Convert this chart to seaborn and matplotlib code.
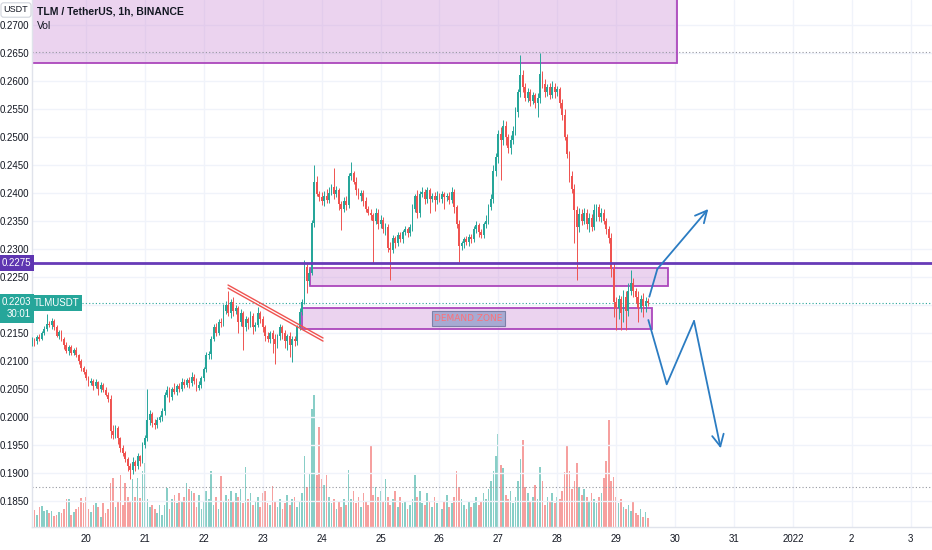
import numpy as np
import pandas as pd
import matplotlib
matplotlib.use('Agg')
import matplotlib.pyplot as plt
import seaborn as sns
from matplotlib.patches import Rectangle

# Hourly closes, TLM/USDT, Dec 19 02:00 -> Dec 29 13:00
close_19 = [0.2138, 0.2135, 0.2142, 0.2140, 0.2150, 0.2158, 0.2166, 0.2164, 0.2172, 0.2160, 0.2145,
            0.2152, 0.2140, 0.2128, 0.2118, 0.2125, 0.2115, 0.2120, 0.2110, 0.2100, 0.2088, 0.2080]
close_20 = [0.2070, 0.2060, 0.2065, 0.2055, 0.2062, 0.2050, 0.2058, 0.2048, 0.2040, 0.2032, 0.1975, 0.1968,
            0.1980, 0.1962, 0.1945, 0.1935, 0.1925, 0.1912, 0.1905, 0.1920, 0.1912, 0.1930, 0.1922, 0.1950]
close_21 = [0.1962, 0.1995, 0.2005, 0.1990, 0.1985, 0.1995, 0.2000, 0.2010, 0.2040, 0.2048, 0.2035, 0.2050,
            0.2045, 0.2055, 0.2050, 0.2062, 0.2058, 0.2066, 0.2060, 0.2072, 0.2065, 0.2052, 0.2058, 0.2070]
close_22 = [0.2085, 0.2110, 0.2112, 0.2140, 0.2160, 0.2150, 0.2170, 0.2168, 0.2190, 0.2200, 0.2185, 0.2205,
            0.2190, 0.2195, 0.2170, 0.2185, 0.2160, 0.2175, 0.2168, 0.2180, 0.2160, 0.2165, 0.2185, 0.2175]
close_23 = [0.2160, 0.2145, 0.2140, 0.2150, 0.2140, 0.2130, 0.2145, 0.2160, 0.2150, 0.2135, 0.2145, 0.2128,
            0.2140, 0.2135, 0.2160, 0.2188, 0.2205, 0.2268, 0.2242, 0.2258, 0.2346, 0.2420, 0.2398, 0.2392]
close_24 = [0.2385, 0.2395, 0.2388, 0.2400, 0.2410, 0.2398, 0.2405, 0.2380, 0.2372, 0.2385, 0.2378, 0.2430,
            0.2435, 0.2420, 0.2405, 0.2395, 0.2400, 0.2385, 0.2372, 0.2365, 0.2360, 0.2350, 0.2365, 0.2345]
close_25 = [0.2352, 0.2335, 0.2340, 0.2302, 0.2298, 0.2320, 0.2310, 0.2325, 0.2318, 0.2330, 0.2335, 0.2328,
            0.2340, 0.2372, 0.2395, 0.2365, 0.2398, 0.2402, 0.2390, 0.2405, 0.2390, 0.2395, 0.2388, 0.2395]
close_26 = [0.2390, 0.2398, 0.2392, 0.2395, 0.2388, 0.2402, 0.2375, 0.2345, 0.2305, 0.2310, 0.2318, 0.2312,
            0.2322, 0.2318, 0.2335, 0.2342, 0.2330, 0.2325, 0.2345, 0.2350, 0.2375, 0.2390, 0.2440, 0.2465]
close_27 = [0.2505, 0.2495, 0.2520, 0.2500, 0.2480, 0.2495, 0.2510, 0.2545, 0.2580, 0.2610, 0.2590, 0.2570,
            0.2580, 0.2565, 0.2575, 0.2560, 0.2570, 0.2612, 0.2595, 0.2580, 0.2590, 0.2575, 0.2590, 0.2580]
close_28 = [0.2585, 0.2560, 0.2540, 0.2500, 0.2470, 0.2430, 0.2408, 0.2370, 0.2340, 0.2362, 0.2350, 0.2365,
            0.2345, 0.2355, 0.2340, 0.2370, 0.2375, 0.2358, 0.2365, 0.2350, 0.2335, 0.2320, 0.2265, 0.2205]
close_29 = [0.2195, 0.2210, 0.2185, 0.2215, 0.2190, 0.2225, 0.2240, 0.2225, 0.2215, 0.2195, 0.2210, 0.2198,
            0.2208, 0.2203]
first_open = 0.2132

# wicks in ticks of 0.0001 above / below the body
upper_wick = [4, 3, 5, 6, 3, 4, 18, 6, 4, 3, 5, 3, 4, 3, 6, 3, 4, 3, 5, 3, 4, 3,
              5, 3, 4, 3, 6, 3, 4, 3, 5, 4, 8, 10, 6, 4, 3, 5, 4, 3, 6, 8, 4, 5, 3, 6,
              5, 55, 8, 4, 6, 5, 4, 6, 5, 8, 6, 4, 10, 4, 6, 8, 5, 4, 6, 8, 5, 4, 6, 4,
              4, 6, 5, 4, 6, 8, 5, 6, 12, 8, 25, 6, 10, 5, 4, 8, 5, 6, 4, 10, 6, 4, 12, 4,
              5, 4, 6, 4, 5, 8, 4, 6, 4, 5, 4, 6, 4, 5, 4, 6, 5, 12, 5, 6, 6, 30, 10, 6,
              10, 8, 12, 10, 6, 35, 8, 4, 6, 8, 10, 6, 20, 5, 8, 4, 6, 5, 8, 4, 6, 5, 8, 6,
              8, 5, 6, 4, 10, 5, 4, 6, 5, 4, 6, 5, 4, 8, 4, 10, 6, 8, 5, 6, 4, 5, 6, 8,
              5, 6, 4, 5, 6, 8, 5, 4, 6, 5, 4, 6, 5, 4, 6, 8, 5, 6, 4, 10, 6, 8, 10, 6,
              8, 12, 10, 8, 6, 8, 10, 8, 6, 36, 10, 6, 8, 5, 6, 4, 8, 38, 6, 8, 5, 6, 10, 6,
              6, 5, 8, 10, 6, 5, 10, 8, 6, 12, 10, 8, 6, 10, 8, 10, 6, 5, 8, 6, 5, 6, 8, 10,
              10, 8, 6, 12, 10, 15, 22, 8, 6, 10, 8, 12, 6, 4]
lower_wick = [6, 8, 4, 5, 3, 4, 5, 3, 6, 4, 3, 5, 4, 6, 3, 8, 5, 4, 3, 6, 5, 4,
              4, 5, 3, 6, 4, 10, 5, 4, 3, 5, 12, 8, 6, 10, 8, 5, 6, 8, 15, 6, 8, 5, 10, 4,
              6, 4, 10, 8, 6, 5, 4, 8, 6, 4, 8, 5, 4, 6, 5, 4, 6, 5, 8, 4, 6, 5, 4, 6,
              5, 4, 6, 8, 5, 6, 4, 8, 5, 6, 4, 8, 10, 6, 20, 8, 40, 6, 10, 8, 12, 6, 4, 8,
              8, 10, 6, 8, 25, 35, 6, 8, 10, 12, 15, 20, 30, 8, 6, 5, 6, 4, 20, 6, 5, 6, 4, 6,
              6, 8, 5, 6, 4, 8, 6, 10, 38, 6, 8, 5, 6, 4, 8, 6, 10, 8, 6, 5, 8, 75, 6, 10,
              8, 6, 10, 8, 53, 6, 8, 5, 6, 8, 5, 6, 4, 8, 6, 10, 8, 6, 10, 8, 25, 6, 20, 8,
              6, 8, 20, 6, 8, 5, 10, 8, 28, 6, 8, 5, 6, 8, 5, 6, 8, 5, 6, 8, 5, 6, 8, 10,
              12, 72, 10, 15, 8, 10, 8, 6, 10, 8, 10, 6, 8, 10, 6, 8, 24, 10, 8, 8, 6, 8, 6, 10,
              6, 8, 10, 6, 8, 10, 8, 60, 95, 10, 8, 6, 10, 15, 8, 6, 20, 8, 10, 6, 8, 10, 15, 27,
              40, 20, 30, 15, 35, 10, 8, 10, 12, 25, 8, 20, 10, 5]

volume = [24, 17, 12, 20, 21, 16, 17, 14, 16, 11, 12, 15, 14, 18, 28, 28, 12, 15, 18, 20, 29, 24,
          30, 18, 15, 22, 24, 20, 10, 24, 14, 18, 44, 49, 20, 26, 52, 22, 44, 30, 26, 48, 30, 49, 29, 56,
          64, 28, 20, 22, 18, 14, 22, 12, 22, 39, 18, 28, 32, 24, 34, 26, 30, 44, 38, 36, 34, 20, 32, 18,
          26, 36, 28, 56, 22, 30, 18, 51, 26, 32, 28, 36, 26, 34, 30, 38, 24, 60, 28, 34, 22, 26, 30, 20,
          34, 36, 24, 22, 41, 26, 20, 28, 18, 24, 32, 22, 28, 30, 20, 26, 34, 71, 40, 54, 118, 132, 52, 100,
          48, 42, 52, 30, 24, 28, 18, 26, 20, 28, 22, 57, 28, 36, 24, 30, 20, 34, 26, 22, 82, 32, 40, 30,
          36, 26, 48, 30, 22, 28, 36, 20, 30, 24, 26, 18, 22, 28, 52, 30, 36, 24, 22, 34, 26, 20, 30, 24,
          28, 18, 26, 32, 20, 24, 30, 56, 40, 28, 22, 18, 26, 20, 24, 30, 22, 26, 34, 28, 38, 46, 56, 71,
          93, 62, 59, 32, 28, 36, 24, 30, 46, 68, 87, 40, 34, 26, 30, 42, 28, 60, 46, 22, 30, 26, 34, 24,
          30, 28, 36, 55, 81, 56, 38, 46, 64, 40, 32, 38, 30, 26, 34, 28, 24, 30, 34, 49, 66, 107, 46, 50,
          30, 24, 28, 20, 18, 22, 16, 26, 14, 12, 18, 10, 15, 9]

day_ticks = [20, 21, 22, 23, 24, 25, 26, 27, 28, 29, 30, 31, 32, 33, 34]
day_labels = ['20', '21', '22', '23', '24', '25', '26', '27', '28', '29', '30', '31', '2022', '2', '3']
price_ticks = [0.1850, 0.1900, 0.1950, 0.2000, 0.2050, 0.2100, 0.2150, 0.2200, 0.2250,
               0.2300, 0.2350, 0.2400, 0.2450, 0.2500, 0.2550, 0.2600, 0.2650, 0.2700]

# drawings (time in days of December, price in USDT)
top_zone = [19.08, 30.034, 0.26321, 0.2800]
supply_zone = [23.80, 29.88, 0.22339, 0.22661]
demand_zone = [23.667, 29.61, 0.21566, 0.21952]
resistance = 0.2275
last_price = 0.2203
trend_t = [22.411, 24.024]
trend_p = [0.22357, 0.21411]
arrow_up_t = [29.564, 29.700, 30.565]
arrow_up_p = [0.22148, 0.22643, 0.23714]
arrow_down_t = [29.547, 29.859, 30.323, 30.776]
arrow_down_p = [0.21732, 0.20584, 0.21714, 0.19441]

GREEN = '#26a69a'
RED = '#ef5350'

close = np.array(close_19 + close_20 + close_21 + close_22 + close_23 + close_24 +
                 close_25 + close_26 + close_27 + close_28 + close_29)
n = len(close)
assert len(upper_wick) == n and len(lower_wick) == n and len(volume) == n
opn = np.concatenate([[first_open], close[:-1]])
hi = np.maximum(opn, close) + np.array(upper_wick) * 1e-4
lo = np.minimum(opn, close) - np.array(lower_wick) * 1e-4
t = 19 + (2 + np.arange(n)) / 24
up = close >= opn
colors = np.where(up, GREEN, RED)

sns.set_theme(style='white')
plt.rcParams['font.family'] = ['Liberation Sans Narrow', 'Liberation Sans', 'DejaVu Sans']

fig = plt.figure(figsize=(9.32, 5.5), dpi=100)
ax = fig.add_axes([32 / 932, 23 / 550, 900 / 932, 527 / 550])
ax2 = ax.twinx()

# volume with seaborn
df = pd.DataFrame({'t': t, 'vol': volume, 'dir': np.where(up, 'up', 'down')})
sns.barplot(data=df, x='t', y='vol', hue='dir', palette={'up': GREEN, 'down': RED},
            native_scale=True, dodge=False, width=0.68, errorbar=None, legend=False,
            saturation=1, alpha=0.55, linewidth=0, ax=ax2)
ax2.set_ylim(0, max(volume) * 4)
ax2.set_yticks([])
ax2.set_xlabel('')
ax2.set_ylabel('')
for s in ax2.spines.values():
    s.set_visible(False)

ax.set_zorder(ax2.get_zorder() + 1)
ax.patch.set_visible(False)

# candles
ax.vlines(t, lo, hi, colors=colors, lw=0.7, zorder=3)
body = np.maximum(np.abs(close - opn), 0.00004)
ax.bar(t, body, bottom=np.minimum(opn, close), width=0.031, color=colors, linewidth=0, zorder=4)

# zones
for (x0, x1, y0, y1) in [top_zone, supply_zone, demand_zone]:
    ax.add_patch(Rectangle((x0, y0), x1 - x0, y1 - y0, facecolor='#ce93d8', alpha=0.4,
                           edgecolor='none', zorder=2))
    ax.add_patch(Rectangle((x0, y0), x1 - x0, y1 - y0, facecolor='none',
                           edgecolor='#ab47bc', lw=1.3, zorder=2.1))

ax.axhline(resistance, color='#673ab7', lw=2, zorder=5)
ax.axhline(last_price, color=GREEN, lw=0.8, ls=(0, (1, 2)), zorder=2)
ax.axhline(0.2652, color='#9598a1', lw=0.8, ls=(0, (1, 2)), zorder=2)
ax.axhline(0.1875, color='#9598a1', lw=0.8, ls=(0, (1, 2)), zorder=2)

# falling trend line (double)
ax.plot(trend_t, trend_p, color=RED, lw=1, zorder=5)
ax.plot(trend_t, [p - 0.00055 for p in trend_p], color=RED, lw=1, zorder=5)

# projected paths
BLUE = '#2b7cc2'
for pt, pp in [(arrow_up_t, arrow_up_p), (arrow_down_t, arrow_down_p)]:
    ax.plot(pt[:-1], pp[:-1], color=BLUE, lw=1.3, zorder=6)
    ax.annotate('', xy=(pt[-1], pp[-1]), xytext=(pt[-2], pp[-2]),
                arrowprops=dict(arrowstyle='->,head_length=0.7,head_width=0.35', color=BLUE,
                                lw=1.3, shrinkA=0, shrinkB=0), zorder=6)

ax.text(26.494, 0.21759, 'DEMAND ZONE', ha='center', va='center', fontsize=6.5,
        family=['DejaVu Sans'], color='#ff6f77', zorder=7,
        bbox=dict(boxstyle='square,pad=0.3', fc='#a7aad2', ec='#7d80a8', lw=0.8))

# axes, grid, ticks
ax.set_xlim(19.083, 34.363)
ax2.set_xlim(19.083, 34.363)
ax.set_ylim(0.18036, 0.274464)
ax.set_xticks(day_ticks)
ax.set_xticklabels(day_labels)
ax.set_yticks(price_ticks)
# 0.2200 sits under the last-price badge
ax.set_yticklabels(['' if abs(v - last_price) < 0.001 else f'{v:.4f}' for v in price_ticks])
ax.grid(True, color='#f0f3fa', lw=1)
ax.set_axisbelow(True)
ax.tick_params(axis='both', length=0, labelsize=7, colors='#131722')
ax.tick_params(axis='y', pad=2)
ax.tick_params(axis='x', pad=5)
for side in ['top', 'right']:
    ax.spines[side].set_visible(False)
for side in ['left', 'bottom']:
    ax.spines[side].set_color('#e0e3eb')
    ax.spines[side].set_linewidth(1)

# price-scale labels
yt = ax.get_yaxis_transform()
ax.text(-0.0015, resistance, '0.2275', transform=yt, ha='right', va='center', fontsize=7,
        color='white', zorder=8, clip_on=False,
        bbox=dict(boxstyle='square,pad=0.3', fc='#5e35b1', ec='none'))
ax.text(-0.0015, 0.21938, '0.2203\n30:01', transform=yt, ha='right', va='center', fontsize=7,
        color='white', zorder=8, clip_on=False, linespacing=1.25,
        bbox=dict(boxstyle='square,pad=0.35', fc=GREEN, ec='none'))
ax.text(0.0015, 0.22036, 'TLMUSDT', transform=yt, ha='left', va='center', fontsize=7,
        color='white', zorder=8,
        bbox=dict(boxstyle='square,pad=0.3', fc=GREEN, ec='none'))

fig.text(16 / 932, 1 - 10 / 550, 'USDT', ha='center', va='center', fontsize=6.5, color='#131722',
         bbox=dict(boxstyle='round,pad=0.3,rounding_size=0.3', fc='white', ec='#d1d4dc', lw=0.8))
ax.text(5 / 900, 1 - 12 / 527, 'TLM / TetherUS, 1h, BINANCE', transform=ax.transAxes,
        fontsize=7.5, fontweight='bold', color='#131722', va='center', zorder=8)
ax.text(5 / 900, 1 - 26 / 527, 'Vol', transform=ax.transAxes,
        fontsize=7.5, color='#131722', va='center', zorder=8)

fig.savefig('out.png', dpi=100, facecolor='white')
